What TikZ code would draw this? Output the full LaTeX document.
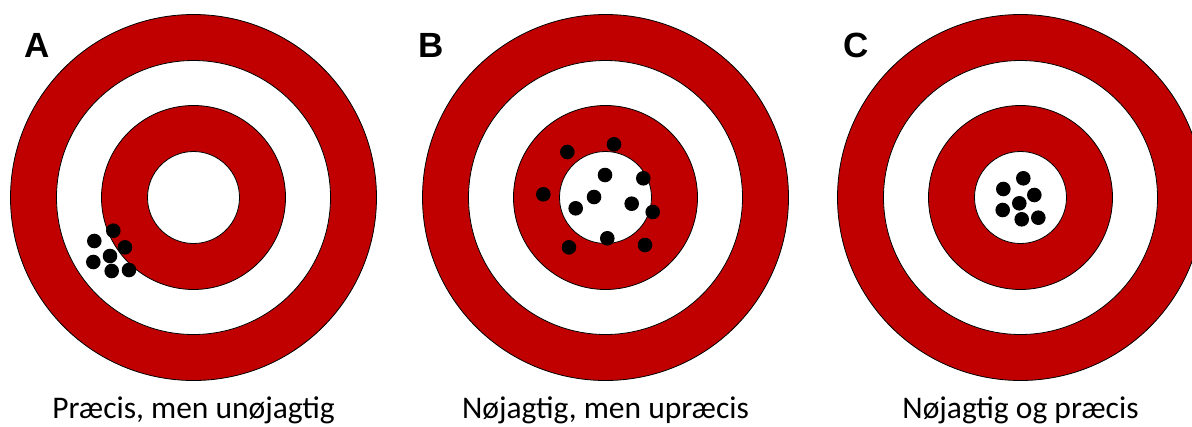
\documentclass[tikz,border=0pt]{standalone}
\usepackage{fontspec}
\setmainfont{Carlito}
\newfontfamily\letterfont{Liberation Sans}
\usepackage{xcolor}
\usepackage{tikz}
\usetikzlibrary{positioning}
\definecolor{targetred}{RGB}{192,0,0}

\begin{document}
\begin{tikzpicture}[x=1pt,y=-1pt,
    ring/.style={draw=black,line width=0.8pt},
    hit/.style={fill=black},
    caption/.style={font=\fontsize{31.5}{34}\selectfont,anchor=base,inner sep=0pt},
    tag/.style={font=\letterfont\bfseries\fontsize{35}{38}\selectfont,anchor=base west,inner sep=0pt}]
  \useasboundingbox (0,0) rectangle (1192,426);
  % three targets with letter and caption
  \foreach \cx/\tx/\id/\lab in {193.5/24/A/{Præcis, men unøjagtig},
                                605.5/418/B/{Nøjagtig, men upræcis},
                                1020.5/843/C/{Nøjagtig og præcis}}{
     \foreach \r/\col in {183/targetred,137/white,92/targetred,46/white}
        \filldraw[ring,fill=\col] (\cx,197.5) circle[radius=\r pt];
     \node[tag] (tag\id) at (\tx,57) {\id};
     \node[caption] (cap\id) at (\cx,418) {\lab};
  }
  % hits
  \foreach \x/\y in {113.3/230.7, 94.3/241, 125/247.3, 110/256, 93.3/262, 111.7/271, 129/270,
                     614/144.3, 567.3/152, 605/175, 643.3/178.3, 543.3/194.3, 594/197,
                     631.7/203.7, 575.7/208.3, 652.7/212, 607.3/238.3, 569/247.3, 645/245,
                     1023.3/178.3, 1003.3/189, 1034.3/195, 1019.3/203.3, 1002.7/210,
                     1021.7/219.3, 1038.3/217.7}
     \fill[hit] (\x,\y) circle[radius=7.3pt];
\end{tikzpicture}
\end{document}
